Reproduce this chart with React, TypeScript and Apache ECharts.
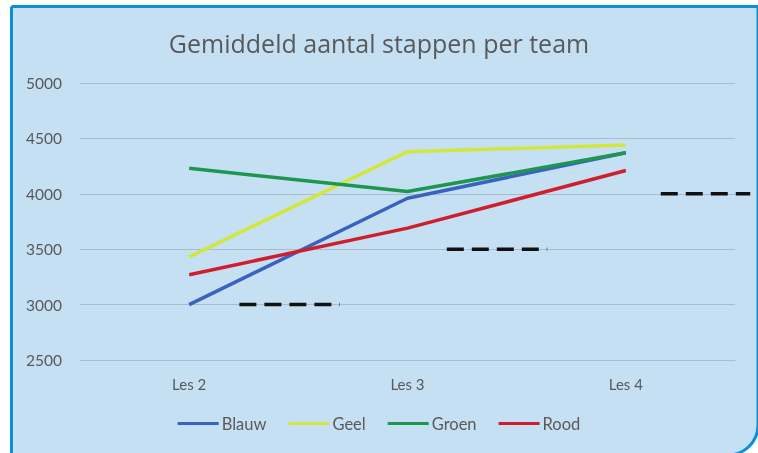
import React, { useEffect, useRef } from "react";
import * as echarts from "echarts";

const categories = ["Les 2", "Les 3", "Les 4"];
const blauw = [3000, 3960, 4370];
const geel = [3430, 4380, 4440];
const groen = [4230, 4020, 4370];
const rood = [3270, 3690, 4210];
const yTicks = [2500, 3000, 3500, 4000, 4500, 5000];
// dashed target segments: level and horizontal extent in category units
const targetLevels = [3000, 3500, 4000];
const targetStart = [0.73, 1.68, 2.66];
const targetEnd = [1.19, 2.14, 3.07];

const FONT = "Lato";
const TEXT = "#595959";

export default function App() {
  const ref = useRef<HTMLDivElement>(null);
  useEffect(() => {
    if (!ref.current) return;
    const chart = echarts.init(ref.current, null, { renderer: "svg" });
    const mk = (name: string, data: number[], color: string) => ({
      name,
      type: "line",
      data,
      symbol: "none",
      lineStyle: { color, width: 3.5 },
      itemStyle: { color },
      z: 3,
    });
    const targets = targetLevels.map((lv, i) => ({
      type: "line",
      xAxisIndex: 1,
      yAxisIndex: 1,
      symbol: "none",
      clip: false,
      silent: true,
      data: [
        [targetStart[i], lv],
        [targetEnd[i], lv],
      ],
      lineStyle: { color: "#111", width: 3.5, type: [17, 8] },
      z: 2,
    }));
    const yBase = {
      type: "value",
      min: yTicks[0],
      max: yTicks[yTicks.length - 1],
      interval: 500,
    };
    chart.setOption({
      animation: false,
      backgroundColor: "transparent",
      graphic: [
        {
          type: "rect",
          z: -10,
          silent: true,
          shape: { x: 11.5, y: 6.5, width: 746.5, height: 448.5, r: [0, 0, 30, 0] },
          style: { fill: "#c6e0f3", stroke: "#0a8fd9", lineWidth: 3 },
        },
      ],
      title: {
        text: "Gemiddeld aantal stappen per team",
        left: "center",
        top: 25,
        textStyle: { fontFamily: "Open Sans", fontSize: 25, fontWeight: "normal", color: TEXT },
      },
      legend: {
        bottom: 16,
        left: "center",
        icon: "rect",
        itemWidth: 41,
        itemHeight: 3,
        itemGap: 22,
        textStyle: { fontFamily: FONT, fontSize: 16.5, color: TEXT, padding: [0, 0, 0, -2] },
        data: ["Blauw", "Geel", "Groen", "Rood"],
      },
      grid: [
        { left: 80, right: 23, top: 83, bottom: 93 },
        { left: 80, right: 8, top: 83, bottom: 93 },
      ],
      xAxis: [
        {
          type: "category",
          data: categories,
          boundaryGap: true,
          axisLine: { show: true, lineStyle: { color: "#a9bccd", width: 1 } },
          axisTick: { show: false },
          axisLabel: { color: TEXT, fontFamily: FONT, fontSize: 15, margin: 16 },
        },
        {
          type: "value",
          gridIndex: 1,
          min: 0,
          max: (3 * 670) / 655,
          show: false,
        },
      ],
      yAxis: [
        {
          ...yBase,
          axisLine: { show: false },
          axisTick: { show: false },
          splitLine: { lineStyle: { color: "#a9bccd", width: 1 } },
          axisLabel: {
            color: TEXT,
            fontFamily: FONT,
            fontSize: 15.5,
            margin: 18,
            formatter: (v: number) => String(v),
          },
        },
        { ...yBase, gridIndex: 1, show: false },
      ],
      series: [
        mk("Blauw", blauw, "#3a63bf"),
        mk("Geel", geel, "#d3e63c"),
        mk("Groen", groen, "#1e9650"),
        mk("Rood", rood, "#cf1f2e"),
        ...targets,
      ],
    });
    return () => chart.dispose();
  }, []);
  return (
    <div
      ref={ref}
      style={{ position: "fixed", left: 0, top: 0, width: 758, height: 453 }}
    />
  );
}
